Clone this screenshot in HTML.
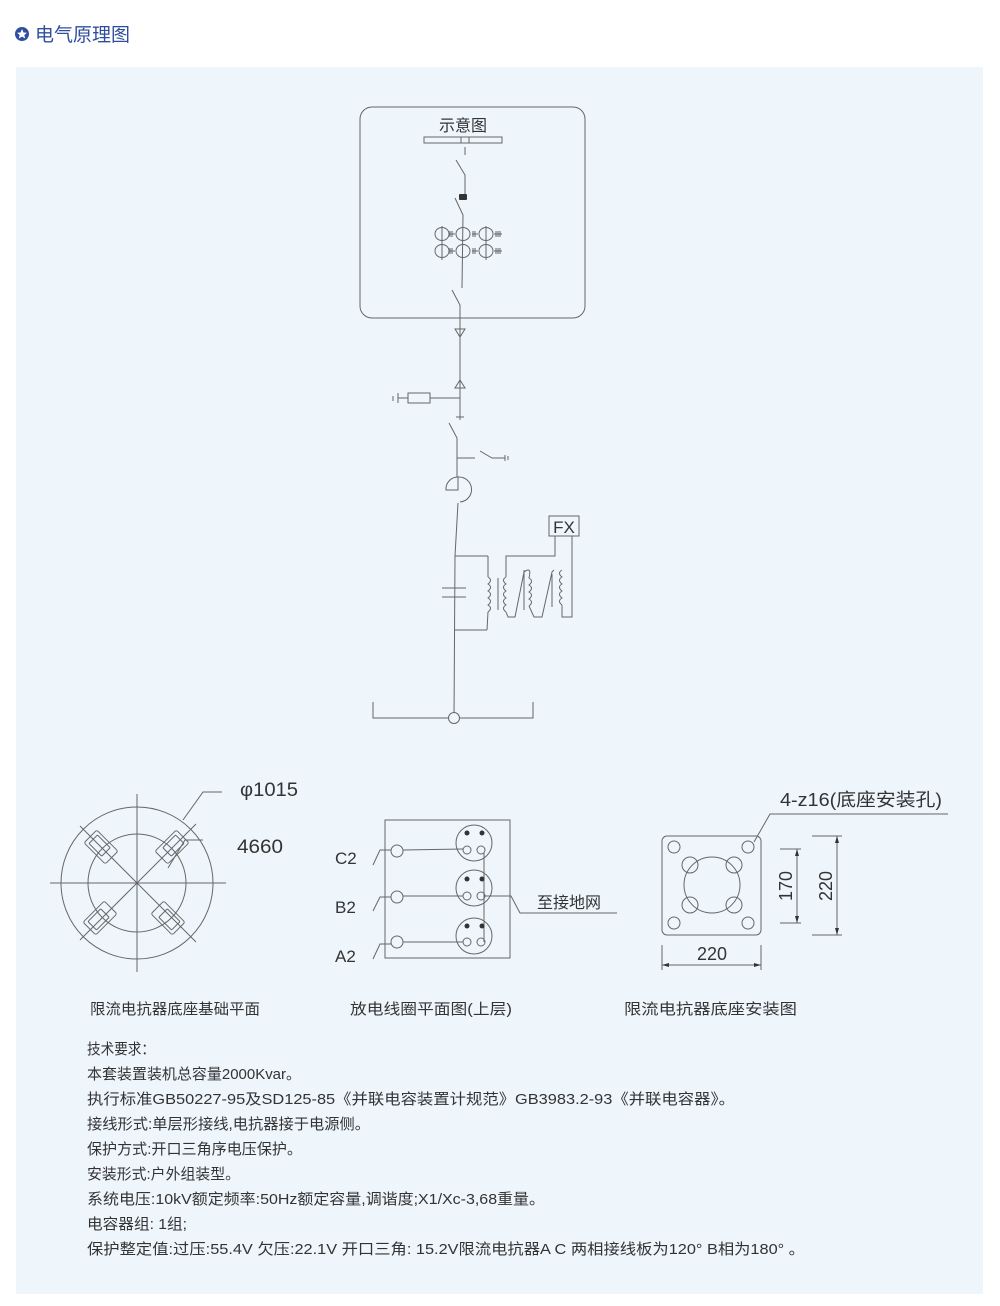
<!DOCTYPE html>
<html><head><meta charset="utf-8"><style>
html,body{margin:0;padding:0;background:#fff;}
svg{display:block;}
text{font-family:"Liberation Sans","Noto Sans CJK SC",sans-serif;fill:#333;}
</style></head><body>
<svg width="1000" height="1306" viewBox="0 0 1000 1306" xmlns="http://www.w3.org/2000/svg">
<rect x="0" y="0" width="1000" height="1306" fill="#fff"/>
<circle cx="22" cy="34" r="7" fill="#2f4f9e"/>
<polygon points="22,29 23.5,32.5 27,32.8 24.3,35 25.2,38.5 22,36.6 18.8,38.5 19.7,35 17,32.8 20.5,32.5" fill="#fff"/>
<text x="35" y="41" font-size="19" style="fill:#2f4f9e">电气原理图</text>
<rect x="16" y="67" width="967" height="1227" fill="#eef6fc"/>

<g stroke="#666" stroke-width="1" fill="none">
<rect x="360" y="107" width="225" height="211" rx="12"/>
<rect x="424" y="137" width="78" height="6"/>
<rect x="461" y="137" width="8" height="6"/>
<line x1="465" y1="147" x2="465" y2="155"/>
<polyline points="456,160 465,175 465,195"/>
<polyline points="455,198 463,215 462,288"/>
<g>
<ellipse cx="442" cy="234" rx="7" ry="6.5"/><ellipse cx="463" cy="234" rx="7" ry="6.5"/><ellipse cx="486" cy="234" rx="7" ry="6.5"/>
<ellipse cx="442" cy="251" rx="7" ry="6.5"/><ellipse cx="463" cy="251" rx="7" ry="6.5"/><ellipse cx="486" cy="251" rx="7" ry="6.5"/>
<line x1="442" y1="226" x2="442" y2="260"/><line x1="486" y1="226" x2="486" y2="260"/>
<path d="M449,234h6M450,231v6M452,231v6M472,234h6M473,231v6M475,231v6M494,234h8M496,231v6M498,231v6M500,231v6"/>
<path d="M449,251h6M450,248v6M452,248v6M472,251h6M473,248v6M475,248v6M494,251h8M496,248v6M498,248v6M500,248v6"/>
</g>
<polyline points="452,290 460,305 460,420"/>
<polygon points="455,329 465,329 460,337"/>
<polygon points="455,388 465,388 460,380"/>
<line x1="460" y1="398" x2="430" y2="398"/>
<rect x="408" y="393" width="22" height="10"/>
<line x1="408" y1="398" x2="398" y2="398"/>
<line x1="398" y1="393" x2="398" y2="403"/>
<line x1="393" y1="396" x2="393" y2="401"/>
<line x1="460" y1="410" x2="460" y2="417"/>
<line x1="456" y1="417" x2="464" y2="417"/>
<polyline points="449,423 457,438 457,477"/>
<line x1="457" y1="458" x2="475" y2="458"/>
<polyline points="480,451 492,458 505,458"/>
<line x1="505" y1="455" x2="505" y2="461"/><line x1="508" y1="456" x2="508" y2="460"/>
<path d="M458,477 A12,12 0 1 1 460,502"/>
<path d="M458,477 L458,490 L446,490 A12,12 0 0 1 458,477"/>
<polyline points="458,503 455,556 454,718"/>
<line x1="442" y1="588" x2="466" y2="588"/><line x1="442" y1="597" x2="466" y2="597"/>
<line x1="455" y1="556" x2="488" y2="556"/>
<line x1="488" y1="556" x2="488" y2="577"/>
<path d="M488,577 q5,3 0,7 q5,3 0,7 q5,3 0,7 q5,3 0,7 q5,3 0,7"/>
<line x1="488" y1="612" x2="487" y2="630"/>
<line x1="487" y1="630" x2="454" y2="630"/>
<line x1="498" y1="578" x2="498" y2="610"/>
<polyline points="506,577 506,556 555,556 555,536"/>
<path d="M506,577 q-5,3 0,7 q-5,3 0,7 q-5,3 0,7 q-5,3 0,7 q-5,3 0,7"/>
<polyline points="506,612 508,617 515,617 524,572"/>
<line x1="524" y1="570" x2="524" y2="610"/>
<path d="M524,572 q8,-6 5,6 q5,3 0,7 q5,3 0,7 q5,3 0,7 q5,3 0,7"/>
<polyline points="529,606 534,617 542,617 552,572 554,570"/>
<line x1="552" y1="574" x2="552" y2="607"/>
<path d="M562,570 q-5,3 0,7 q-5,3 0,7 q-5,3 0,7 q-5,3 0,7 q-5,3 0,7"/>
<polyline points="562,605 562,617 572,617 572,536"/>
<rect x="549" y="516" width="30" height="20"/>
<polyline points="373,702 373,718 533,718 533,702"/>
<circle cx="454" cy="718" r="5.5" fill="#eef6fc"/>

<circle cx="137" cy="883" r="76"/>
<circle cx="137" cy="883" r="49"/>
<line x1="50" y1="883" x2="226" y2="883"/>
<line x1="137" y1="794" x2="137" y2="972"/>
<line x1="80" y1="826" x2="196" y2="942"/>
<line x1="80" y1="940" x2="196" y2="824"/>
<g transform="translate(101,847) rotate(45)"><rect x="-15" y="-9" width="30" height="18" rx="2"/><rect x="-11" y="-6" width="18" height="12" rx="1"/></g>
<g transform="translate(172,847) rotate(-45)"><rect x="-15" y="-9" width="30" height="18" rx="2"/><rect x="-7" y="-6" width="18" height="12" rx="1"/></g>
<g transform="translate(100,918) rotate(-45)"><rect x="-15" y="-9" width="30" height="18" rx="2"/><rect x="-11" y="-6" width="18" height="12" rx="1"/></g>
<g transform="translate(168,918) rotate(45)"><rect x="-15" y="-9" width="30" height="18" rx="2"/><rect x="-7" y="-6" width="18" height="12" rx="1"/></g>
<polyline points="183,820 203,792 222,792"/>
<polyline points="168,868 185,840 203,840"/>

<rect x="385" y="820" width="125" height="138"/>
<circle cx="397" cy="851" r="6"/><circle cx="397" cy="897" r="6"/><circle cx="397" cy="942" r="6"/>
<circle cx="474" cy="843" r="18"/><circle cx="474" cy="888" r="18"/><circle cx="474" cy="936" r="18"/>
<circle cx="467" cy="850" r="4"/><circle cx="481" cy="850" r="4"/>
<circle cx="467" cy="896" r="4"/><circle cx="481" cy="896" r="4"/>
<circle cx="467" cy="942" r="4"/><circle cx="481" cy="942" r="4"/>
<line x1="403" y1="850" x2="463" y2="849"/>
<line x1="403" y1="896" x2="463" y2="896"/>
<line x1="403" y1="942" x2="463" y2="942"/>
<line x1="484" y1="853" x2="484" y2="942"/>
<polyline points="373,865 380,850 391,850"/>
<polyline points="373,911 380,897 391,897"/>
<polyline points="373,959 380,944 391,944"/>
<polyline points="485,896 511,896 520,913 617,913"/>

<rect x="662" y="836" width="99" height="99" rx="5"/>
<circle cx="674" cy="847" r="6"/><circle cx="748" cy="847" r="6"/>
<circle cx="674" cy="923" r="6"/><circle cx="748" cy="923" r="6"/>
<circle cx="712" cy="885" r="28"/>
<circle cx="690" cy="865" r="8"/><circle cx="734" cy="865" r="8"/>
<circle cx="690" cy="905" r="8"/><circle cx="734" cy="905" r="8"/>
<polyline points="754,842 770,814 948,814"/>
<line x1="780" y1="849" x2="801" y2="849"/><line x1="780" y1="923" x2="801" y2="923"/>
<line x1="797" y1="849" x2="797" y2="923"/>
<line x1="812" y1="836" x2="842" y2="836"/><line x1="812" y1="935" x2="842" y2="935"/>
<line x1="837" y1="836" x2="837" y2="935"/>
<line x1="662" y1="945" x2="662" y2="970"/><line x1="761" y1="945" x2="761" y2="970"/>
<line x1="662" y1="965" x2="761" y2="965"/>
</g>
<g fill="#333">
<rect x="459" y="194" width="8" height="6" rx="1"/>
<polygon points="797,849 795,856 799,856"/><polygon points="797,923 795,916 799,916"/>
<polygon points="837,836 835,843 839,843"/><polygon points="837,935 835,928 839,928"/>
<polygon points="662,965 669,963 669,967"/><polygon points="761,965 754,963 754,967"/>
<circle cx="467" cy="833" r="2.5"/><circle cx="482" cy="833" r="2.5"/>
<circle cx="467" cy="879" r="2.5"/><circle cx="482" cy="879" r="2.5"/>
<circle cx="467" cy="926" r="2.5"/><circle cx="482" cy="926" r="2.5"/>
</g>

<text x="463" y="131" font-size="16" text-anchor="middle">示意图</text>
<text x="564" y="533" font-size="17" text-anchor="middle">FX</text>
<text x="240" y="796" font-size="19" textLength="58" lengthAdjust="spacingAndGlyphs">φ1015</text>
<text x="237" y="853" font-size="19" textLength="46" lengthAdjust="spacingAndGlyphs">4660</text>
<text x="335" y="864" font-size="17">C2</text>
<text x="335" y="913" font-size="17">B2</text>
<text x="335" y="962" font-size="17">A2</text>
<text x="537" y="908" font-size="16">至接地网</text>
<text x="780" y="806" font-size="18" textLength="162" lengthAdjust="spacingAndGlyphs">4-z16(底座安装孔)</text>
<text x="697" y="960" font-size="18">220</text>
<text font-size="18" transform="translate(792,886) rotate(-90)" text-anchor="middle">170</text>
<text font-size="18" transform="translate(832,886) rotate(-90)" text-anchor="middle">220</text>

<text x="90" y="1014" font-size="15" textLength="170" lengthAdjust="spacingAndGlyphs">限流电抗器底座基础平面</text>
<text x="350" y="1014" font-size="15" textLength="162" lengthAdjust="spacingAndGlyphs">放电线圈平面图(上层)</text>
<text x="624" y="1014" font-size="15" textLength="173" lengthAdjust="spacingAndGlyphs">限流电抗器底座安装图</text>

<g font-size="15">
<text x="87" y="1054" textLength="68" lengthAdjust="spacingAndGlyphs">技术要求：</text>
<text x="87" y="1079" textLength="214" lengthAdjust="spacingAndGlyphs">本套装置装机总容量2000Kvar。</text>
<text x="87" y="1104" textLength="648" lengthAdjust="spacingAndGlyphs">执行标准GB50227-95及SD125-85《并联电容装置计规范》GB3983.2-93《并联电容器》。</text>
<text x="87" y="1129" textLength="283" lengthAdjust="spacingAndGlyphs">接线形式:单层形接线,电抗器接于电源侧。</text>
<text x="87" y="1154" textLength="215" lengthAdjust="spacingAndGlyphs">保护方式:开口三角序电压保护。</text>
<text x="87" y="1179" textLength="153" lengthAdjust="spacingAndGlyphs">安装形式:户外组装型。</text>
<text x="87" y="1204" textLength="458" lengthAdjust="spacingAndGlyphs">系统电压:10kV额定频率:50Hz额定容量,调谐度;X1/Xc-3,68重量。</text>
<text x="87" y="1229" textLength="100" lengthAdjust="spacingAndGlyphs">电容器组: 1组;</text>
<text x="87" y="1254" textLength="718" lengthAdjust="spacingAndGlyphs">保护整定值:过压:55.4V  欠压:22.1V  开口三角: 15.2V限流电抗器A C 两相接线板为120°  B相为180°  。</text>
</g>
</svg>
</body></html>
